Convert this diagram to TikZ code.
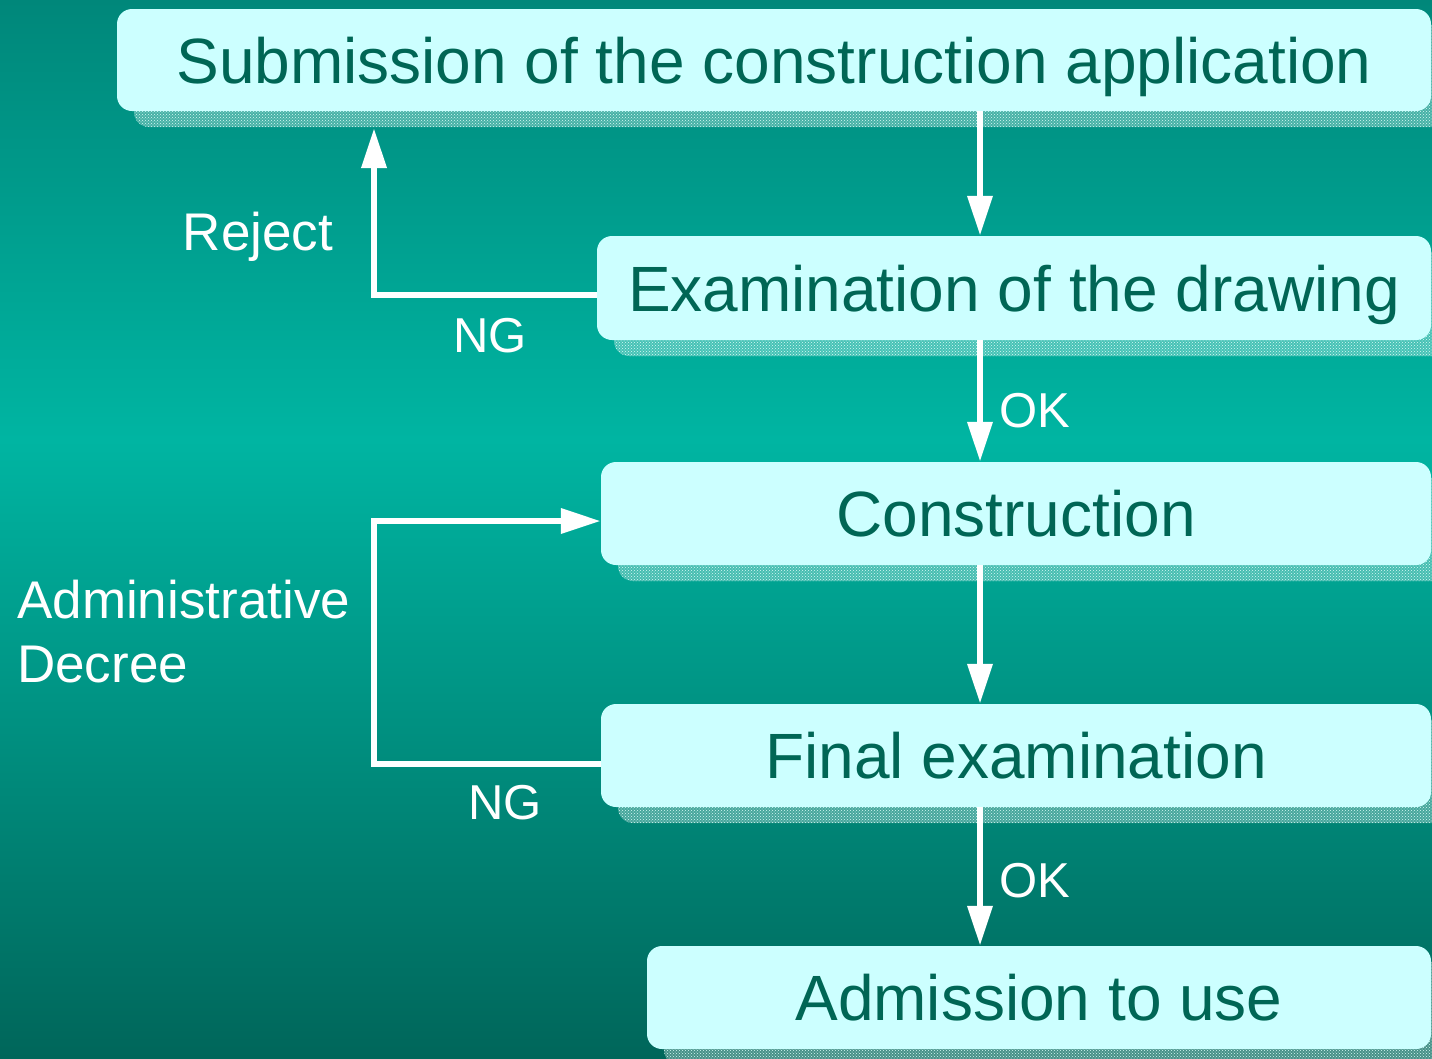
\documentclass[tikz,border=0pt]{standalone}
\usepackage{fontspec}
\setmainfont{Liberation Sans}
\usetikzlibrary{arrows.meta,patterns}
\definecolor{bgtop}{HTML}{00877A}
\definecolor{bgmid}{HTML}{00B5A2}
\definecolor{bgbot}{HTML}{00665A}
\definecolor{boxfill}{HTML}{CCFFFF}
\definecolor{boxtext}{HTML}{006655}
\definecolor{shadowcol}{HTML}{D8FAF6}
\tikzset{
  stepbox/.style={fill=boxfill, rounded corners=15pt, inner sep=0pt,
    text=boxtext, font=\fontsize{64}{70}\selectfont,
    text height=46pt, text depth=0pt},
  boxshadowbase/.style={fill=white, fill opacity=0.28, rounded corners=15pt},
  boxshadow/.style={pattern=crosshatch dots, pattern color=shadowcol, rounded corners=15pt},
  arr/.style={draw=white, line width=6.5pt, -{Triangle[width=24pt,length=40pt]}},
  lbl/.style={text=white, font=\fontsize{49}{63}\selectfont, inner sep=0pt},
  biglbl/.style={text=white, font=\fontsize{53}{63}\selectfont, inner sep=0pt},
}
\begin{document}
\begin{tikzpicture}[x=1pt,y=-1pt]
\useasboundingbox (0,0) rectangle (1432,1058);
\shade[top color=bgtop, bottom color=bgmid] (0,0) rectangle (1432,440);
\shade[top color=bgmid, bottom color=bgbot] (0,439.5) rectangle (1432,1058);

% shadows
\foreach \ya/\yb/\xa in {25/127/134, 252/356/614, 478/581/618, 720/823/618, 962/1065/664}{
  \fill[boxshadowbase] (\xa,\ya) rectangle (1448,\yb);
  \fill[boxshadow] (\xa,\ya) rectangle (1448,\yb);
}

% boxes
\node[stepbox, minimum width=1314pt, minimum height=102pt] (b1) at (774,60) {Submission of the construction application};
\node[stepbox, minimum width=834pt, minimum height=104pt] (b2) at (1014,288) {Examination of the drawing};
\node[stepbox, minimum width=830pt, minimum height=103pt] (b3) at (1016,513.5) {Construction};
\node[stepbox, minimum width=830pt, minimum height=103pt] (b4) at (1016,755.5) {Final examination};
\node[stepbox, minimum width=784pt, minimum height=103pt] (b5) at (1039,997.5) {Admission to use};

% helper coordinates
\coordinate (ax) at (980,0);
\coordinate (rj) at (374,295);
\coordinate (rtop) at (374,128);
\coordinate (ad) at (374,764);
\coordinate (ad2) at (374,521);

% arrows
\draw[arr] (b1.south -| ax) -- (b2.north -| ax);
\draw[arr] (b2.south -| ax) -- (b3.north -| ax);
\draw[arr] (b3.south -| ax) -- (b4.north -| ax);
\draw[arr] (b4.south -| ax) -- (b5.north -| ax);
\draw[arr] (b2.west |- rj) -- (rj) -- (rtop);
\draw[arr] (b4.west |- ad) -- (ad) -- (ad2) -- (b3.west |- ad2);

% labels
\node[biglbl, anchor=base] (lrej) at (258,250) {Reject};
\node[lbl, anchor=base] (lng1) at (490,352) {NG};
\node[lbl, anchor=base west] (lok1) at (999,427) {OK};
\node[biglbl, anchor=base west] (ladm) at (17,618) {Administrative};
\node[biglbl, anchor=base west] (ldec) at (17,682) {Decree};
\node[lbl, anchor=base] (lng2) at (505,819) {NG};
\node[lbl, anchor=base west] (lok2) at (999,897) {OK};
\end{tikzpicture}
\end{document}
